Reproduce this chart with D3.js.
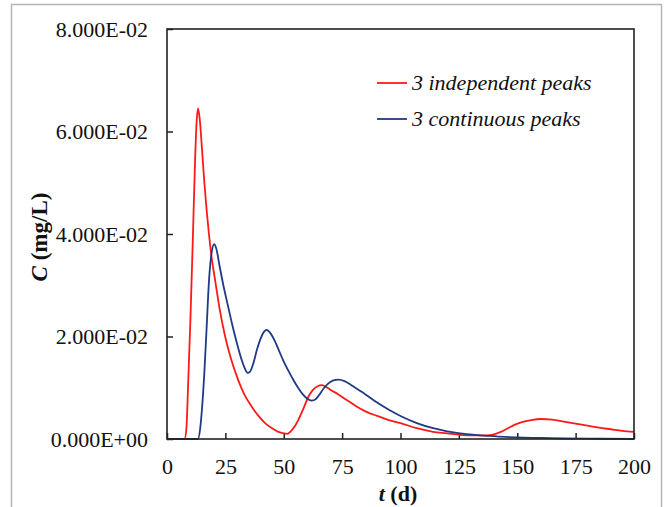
<!DOCTYPE html>
<html lang="en">
<head>
<meta charset="UTF-8">
<title>C vs t</title>
<script src="https://cdn.jsdelivr.net/npm/d3@7"></script>
<style>
  body { margin: 0; background: #fff; }
</style>
</head>
<body>
<svg width="665" height="507"></svg>
<script>
// series: t in days, C in mg/L
const tRed = [0, 7.5, 8.3, 9, 10, 11, 12, 12.7, 13.3, 14, 15, 16, 17, 18, 19, 20.6, 22.5, 24.8, 27.5, 30.5, 33, 36.3, 39, 42, 45, 47.7, 50, 51.5, 53, 55, 56.2, 58.5, 60.5, 62.5, 64.5, 66.2, 68, 70, 73.4, 77, 81, 85, 90, 95, 100, 107, 114, 120, 125.5, 132, 137, 140, 143, 146, 149, 152, 156, 160, 165, 170, 175, 180, 185, 190, 195, 200];
const cRed = [0, 0, 0.002, 0.010, 0.023, 0.038, 0.054, 0.062, 0.0645, 0.0625, 0.0565, 0.050, 0.0445, 0.0398, 0.0358, 0.031, 0.0255, 0.0202, 0.0155, 0.0115, 0.0088, 0.0063, 0.0046, 0.0031, 0.0021, 0.0014, 0.0011, 0.001, 0.0015, 0.0027, 0.0037, 0.006, 0.0082, 0.0096, 0.0103, 0.0105, 0.0102, 0.0096, 0.0087, 0.0076, 0.0064, 0.0054, 0.0045, 0.0037, 0.0031, 0.0021, 0.0014, 0.0011, 0.0008, 0.0007, 0.0007, 0.0009, 0.0014, 0.0021, 0.0028, 0.0033, 0.0037, 0.0039, 0.0038, 0.0034, 0.003, 0.0026, 0.0022, 0.0019, 0.0016, 0.0014];

const tBlue = [0, 13.3, 14.2, 15, 16, 17, 18, 19, 20.2, 21.2, 22.5, 24, 26, 28, 30, 32, 33.5, 34.5, 35.5, 37, 38.5, 40, 41.5, 42.7, 44, 46, 48, 50, 52, 54, 56, 58, 60, 62, 63.5, 65, 67, 69, 71, 73.5, 76, 79, 82, 85, 90, 95, 100, 107, 114, 120, 125.5, 132, 138, 145, 150, 160, 170, 185, 200];
const cBlue = [0, 0, 0.002, 0.006, 0.013, 0.022, 0.031, 0.036, 0.038, 0.037, 0.0338, 0.0303, 0.0262, 0.0222, 0.0186, 0.0154, 0.0136, 0.0129, 0.0131, 0.0148, 0.0174, 0.0195, 0.0209, 0.0213, 0.0208, 0.0193, 0.0172, 0.0151, 0.0133, 0.0116, 0.0101, 0.0088, 0.0079, 0.0075, 0.0077, 0.0085, 0.0098, 0.0108, 0.0114, 0.0116, 0.0113, 0.0105, 0.0096, 0.0087, 0.0071, 0.0057, 0.0045, 0.0031, 0.0021, 0.0015, 0.0011, 0.0008, 0.0006, 0.0004, 0.0003, 0.0002, 0.0001, 0.00005, 0];

const xTicks = [0, 25, 50, 75, 100, 125, 150, 175, 200];
const yTicks = [0, 0.02, 0.04, 0.06, 0.08];
const seriesNames = ["3 independent peaks", "3 continuous peaks"];
const seriesColors = ["#ff1a1a", "#1f3a86"];

const serif = "'Liberation Serif', 'Times New Roman', Times, serif";

const svg = d3.select("svg");

// grey outer frame of the figure
svg.append("rect")
  .attr("x", 11.5).attr("y", 4.5)
  .attr("width", 650).attr("height", 520)
  .attr("fill", "none").attr("stroke", "#b5b5b5").attr("stroke-width", 1.5);

const x = d3.scaleLinear().domain([0, 200]).range([167, 634]);
const y = d3.scaleLinear().domain([0, 0.08]).range([439, 29]);

// x axis: ticks point up into the plot
const xAxis = svg.append("g")
  .attr("transform", `translate(0,${y(0)})`)
  .call(d3.axisBottom(x).tickValues(xTicks).tickSizeInner(-6).tickSizeOuter(0).tickPadding(19));

const yAxis = svg.append("g")
  .attr("transform", `translate(${x(0)},0)`)
  .call(d3.axisLeft(y).tickValues(yTicks).tickSizeInner(-6).tickSizeOuter(0).tickPadding(19)
    .tickFormat(d => d === 0 ? "0.000E+00" : d3.format(".3f")(d * 100) + "E-02"));

svg.selectAll(".tick text")
  .style("font-family", serif).style("font-size", "22px").attr("fill", "#111");
svg.selectAll(".domain").remove();
svg.selectAll(".tick line").attr("stroke", "#222").attr("stroke-width", 1.5);

// series
const line = d3.line().curve(d3.curveMonotoneX).x(d => x(d[0])).y(d => y(d[1]));
const data = [d3.zip(tRed, cRed), d3.zip(tBlue, cBlue)];
svg.append("g").selectAll("path")
  .data(data)
  .join("path")
  .attr("d", line)
  .attr("fill", "none")
  .attr("stroke", (d, i) => seriesColors[i])
  .attr("stroke-width", 1.8);

// plot frame
svg.append("rect")
  .attr("x", x(0)).attr("y", y(0.08))
  .attr("width", x(200) - x(0)).attr("height", y(0) - y(0.08))
  .attr("fill", "none").attr("stroke", "#222").attr("stroke-width", 1.6);

// legend
const legend = svg.append("g").selectAll("g")
  .data(seriesNames)
  .join("g")
  .attr("transform", (d, i) => `translate(377,${83 + i * 36})`);
legend.append("line")
  .attr("x1", 0).attr("x2", 30)
  .attr("stroke", (d, i) => seriesColors[i]).attr("stroke-width", 1.8);
legend.append("text")
  .attr("x", 35).attr("dy", "0.33em")
  .style("font-family", serif)
  .style("font-size", "22px").style("font-style", "italic")
  .attr("fill", "#111")
  .text(d => d);

// axis titles
svg.append("text")
  .attr("x", 398).attr("y", 501)
  .attr("text-anchor", "middle")
  .style("font-family", serif)
  .style("font-size", "22px").style("font-weight", "bold")
  .attr("fill", "#111")
  .call(t => {
    t.append("tspan").style("font-style", "italic").text("t");
    t.append("tspan").text(" (d)");
  });

svg.append("text")
  .attr("transform", "translate(47,237) rotate(-90)")
  .attr("text-anchor", "middle")
  .style("font-family", serif)
  .style("font-size", "23px").style("font-weight", "bold")
  .attr("fill", "#111")
  .call(t => {
    t.append("tspan").style("font-style", "italic").text("C");
    t.append("tspan").text(" (mg/L)");
  });
</script>
</body>
</html>
